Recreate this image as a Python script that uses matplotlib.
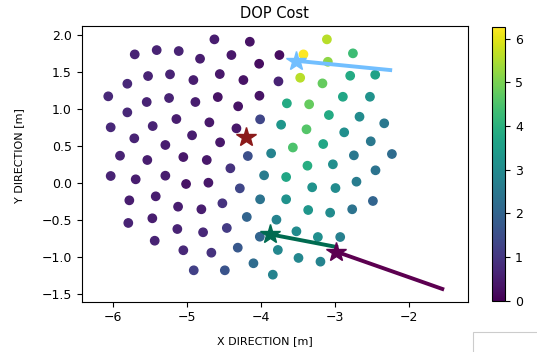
import numpy as np
import matplotlib
matplotlib.use('Agg')
import matplotlib.pyplot as plt
from matplotlib.patches import Rectangle

# candidate positions (x, y) and their DOP cost
x_pos = [-4.625, -4.146, -5.702, -5.405, -5.107, -4.819, -4.395, -4.020, -3.746,
         -5.802, -5.522, -5.225, -4.909, -4.552, -4.233, -3.759,
         -6.060, -5.540, -5.238, -4.882, -4.579, -4.304, -4.016,
         -5.802, -5.139, -4.693, -4.007, -6.027, -5.459, -4.927, -4.327, -4.548,
         -5.708, -5.288, -5.901, -5.532, -5.045, -4.728, -4.173, -3.858,
         -6.027, -5.689, -5.288, -5.008, -4.706, -4.409, -3.953, -4.281, -4.007,
         -5.775, -5.418, -5.116, -4.801, -4.517, -4.187, -3.786,
         -5.789, -5.464, -5.126, -4.778, -4.457, -4.011, -3.767,
         -5.432, -5.045, -4.666, -4.309, -4.097, -4.904, -4.484, -3.835,
         -3.104, -3.421, -3.091, -2.752, -3.465, -3.164, -2.789, -2.451,
         -3.645, -3.344, -2.888, -2.522, -3.723, -3.380, -3.077, -2.663, -2.329,
         -3.564, -3.154, -2.870, -2.511, -2.739, -2.225,
         -3.655, -3.367, -3.023, -2.447, -3.303, -2.988, -2.704,
         -3.655, -3.357, -3.060, -2.762, -2.482, -3.516, -3.226, -2.924,
         -3.488, -3.191]
y_pos = [1.946, 1.914, 1.743, 1.801, 1.788, 1.684, 1.734, 1.616, 1.734,
         1.346, 1.450, 1.473, 1.396, 1.477, 1.396, 1.378,
         1.176, 1.099, 1.153, 1.099, 1.166, 1.041, 1.184,
         0.959, 0.869, 0.824, 0.865, 0.757, 0.774, 0.649, 0.743, 0.554,
         0.608, 0.518, 0.373, 0.315, 0.355, 0.315, 0.369, 0.405,
         0.099, 0.054, 0.103, -0.009, 0.008, 0.203, 0.108, -0.068, -0.216,
         -0.230, -0.176, -0.316, -0.351, -0.270, -0.455, -0.492,
         -0.536, -0.473, -0.618, -0.662, -0.604, -0.722, -0.901,
         -0.776, -0.905, -0.938, -0.870, -1.081, -1.176, -1.176, -1.235,
         1.946, 1.743, 1.643, 1.757, 1.427, 1.351, 1.454, 1.468,
         1.081, 1.068, 1.170, 1.170, 0.792, 0.730, 0.923, 0.900, 0.811,
         0.484, 0.531, 0.689, 0.568, 0.378, 0.396,
         0.085, 0.238, 0.257, 0.176, -0.054, -0.064, 0.022,
         -0.216, -0.361, -0.397, -0.351, -0.239, -0.649, -0.726, -0.726,
         -1.009, -1.059]
dop_cost = [0.5, 0.3, 0.6, 0.6, 0.6, 0.5, 0.4, 0.2, 0.2,
            0.7, 0.6, 0.6, 0.5, 0.4, 0.3, 0.6,
            0.7, 0.6, 0.6, 0.5, 0.3, 0.3, 0.3,
            0.7, 0.5, 0.4, 1.3, 0.7, 0.6, 0.5, 0.4, 0.4,
            0.6, 0.5, 0.6, 0.5, 0.4, 0.4, 1.5, 2.8,
            0.6, 0.5, 0.5, 0.3, 0.4, 0.9, 2.6, 1.3, 2.4,
            0.5, 0.5, 0.5, 0.5, 0.9, 2.0, 2.8,
            0.6, 0.5, 0.6, 0.7, 1.1, 2.0, 2.9,
            0.6, 0.7, 0.9, 1.7, 2.2, 1.2, 1.6, 2.8,
            5.6, 6.25, 5.2, 4.3, 5.6, 4.8, 3.8, 3.6,
            3.8, 4.8, 3.7, 3.2, 3.3, 4.6, 3.8, 3.0, 2.5,
            4.5, 3.7, 3.1, 2.5, 2.5, 2.2,
            3.7, 3.9, 3.1, 2.4, 3.2, 3.0, 2.6,
            3.2, 3.3, 3.0, 2.4, 2.0, 3.0, 3.1, 2.7,
            2.9, 2.8]

# selected positions and their movement
blue_x = [-3.524, -2.248]
blue_y = [1.657, 1.531]
red_x = [-4.196]
red_y = [0.622]
green_x = [-3.878, -2.978]
green_y = [-0.688, -0.860]
purple_x = [-2.978, -1.544]
purple_y = [-0.924, -1.428]

fig = plt.figure(figsize=(5.37, 3.52), dpi=100)
ax = fig.add_axes([0.152, 0.143, 0.719, 0.783])
cax = fig.add_axes([0.917, 0.146, 0.0237, 0.778])

sc = ax.scatter(x_pos, y_pos, c=dop_cost, cmap='viridis', vmin=0, vmax=6.27, s=36)

ax.plot(blue_x, blue_y, color='#72bfff', linewidth=2.8)
ax.plot(blue_x[0], blue_y[0], '*', color='#72bfff', markersize=15)
ax.plot(red_x, red_y, '*', color='#8b1a1a', markersize=15)
ax.plot(green_x, green_y, color='#006b50', linewidth=2.8)
ax.plot(green_x[0], green_y[0], '*', color='#006b50', markersize=15)
ax.plot(purple_x, purple_y, color='#5c0050', linewidth=2.8)
ax.plot(purple_x[0], purple_y[0], '*', color='#5c0050', markersize=15)

ax.set_xlim(-6.42, -1.2)
ax.set_ylim(-1.6, 2.126)
ax.set_xticks([-6, -5, -4, -3, -2])
ax.set_yticks([-1.5, -1.0, -0.5, 0.0, 0.5, 1.0, 1.5, 2.0])
ax.tick_params(labelsize=9)
ax.set_title('DOP Cost', fontsize=10.5)
ax.set_xlabel('X DIRECTION [m]', fontsize=8)
ax.set_ylabel('Y DIRECTION [m]', fontsize=8)
ax.xaxis.set_label_coords(0.474, -0.125)
ax.yaxis.set_label_coords(-0.148, 0.53)

cb = fig.colorbar(sc, cax=cax)
cb.set_ticks([0, 1, 2, 3, 4, 5, 6])
cb.ax.tick_params(labelsize=9)

# leftover empty frame in the lower right corner
fig.patches.append(Rectangle((0.881, -0.01), 0.2, 0.067, transform=fig.transFigure,
                             fill=False, edgecolor='#cccccc', linewidth=0.8))

fig.savefig('out.png', dpi=100)
